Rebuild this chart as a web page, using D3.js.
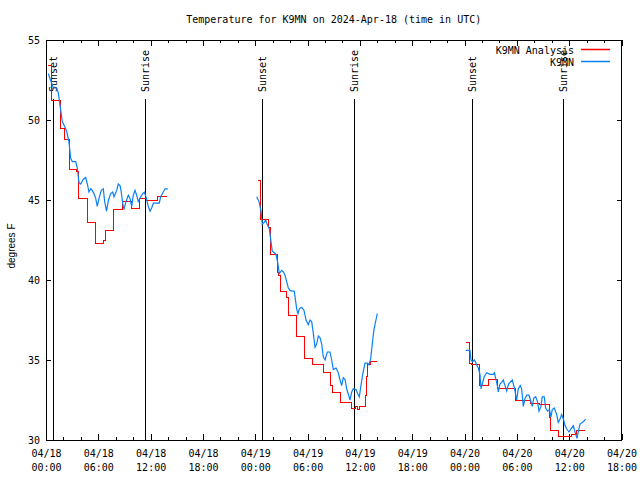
<!DOCTYPE html>
<html>
<head>
<meta charset="utf-8">
<script src="https://cdn.jsdelivr.net/npm/d3@7"></script>
<style>
  body { margin: 0; background: #fff; }
  svg text { font-family: "DejaVu Sans Mono", monospace; font-size: 10px; fill: #000; }
</style>
</head>
<body>
<div id="vis"></div>
<script>
// frame, same size as the gnuplot png
const FRAME_WIDTH = 640;
const FRAME_HEIGHT = 480;
const MARGINS = {left: 46, right: 18.5, top: 40, bottom: 40};
const VIS_WIDTH = FRAME_WIDTH - MARGINS.left - MARGINS.right;
const VIS_HEIGHT = FRAME_HEIGHT - MARGINS.top - MARGINS.bottom;

const RED = "#ff0000";
const BLUE = "#0a80f5";

// hours after 2024-04-18 00:00 UTC, null = gap in the record
const START = Date.UTC(2024, 3, 18, 0, 0);
const END_HOURS = 66;

// K9MN Analysis (red, drawn as steps)
const analysisHours = [0.23, 0.61, 1.61, 2.14, 2.75, 3.52, 3.75, 4.74, 5.70, 6.54, 6.88, 7.72, 8.80, 9.86, 10.78, 11.58, 12.73, 13.84,
  null,
  24.28, 24.60, 25.57, 25.80, 26.57, 26.72, 26.95, 27.60, 27.79, 28.75, 29.70, 30.62, 31.79, 32.68, 32.83, 33.83, 34.98, 35.44, 35.72, 36.01, 36.66, 36.78, 36.89, 37.16, 37.99,
  null,
  48.22, 48.62, 48.82, 49.77, 50.75, 51.78, 53.88, 55.62, 56.65, 57.74, 57.91, 58.72, 59.75, 60.32, 60.84, 61.87];
const analysisTemps = [53.4, 51.2, 49.5, 48.8, 46.9, 46.8, 45.1, 43.6, 42.3, 42.5, 43.1, 44.4, 44.9, 44.5, 45.1, 45.0, 45.2, 45.2,
  null,
  46.2, 43.8, 43.3, 41.6, 40.5, 40.3, 39.3, 38.9, 37.8, 36.5, 35.1, 34.75, 34.2, 33.4, 33.0, 32.35, 32.0, 32.1, 31.9, 32.1, 32.8, 34.0, 34.7, 34.9, 34.9,
  null,
  36.1, 34.8, 34.7, 33.4, 33.8, 33.25, 32.45, 32.3, 32.2, 31.4, 30.6, 30.2, 30.25, 30.35, 30.6, 30.6];

// K9MN station (blue)
const obsHours = [0.26, 0.65, 0.84, 1.23, 1.41, 1.61, 1.87, 2.14, 2.37, 2.64, 2.83, 3.02, 3.41, 3.59, 3.78, 3.98, 4.28, 4.55, 4.74, 4.93,
  5.13, 5.31, 5.50, 5.70, 5.88, 6.08, 6.34, 6.57, 6.73, 6.94, 7.17, 7.42, 7.65, 7.80, 8.11, 8.29, 8.49, 8.60, 8.80, 8.94,
  9.17, 9.44, 9.63, 9.83, 10.01, 10.21, 10.40, 10.58, 10.86, 11.09, 11.27, 11.47, 11.73, 11.93, 12.12, 12.31, 12.99, 13.15, 13.45, 13.65, 13.96,
  null,
  24.16, 24.43, 24.54, 24.66, 24.80, 25.03, 25.19, 25.42, 25.61, 25.80, 25.95, 26.18, 26.38, 26.57, 26.75, 27.03, 27.24, 27.41, 27.60, 27.79,
  27.98, 28.25, 28.47, 28.75, 28.90, 29.05, 29.32, 29.59, 29.82, 30.08, 30.28, 30.47, 30.65, 30.85, 31.04, 31.23, 31.42, 31.62, 31.80, 32.00,
  32.26, 32.57, 32.76, 32.95, 33.26, 33.52, 33.72, 33.91, 34.09, 34.29, 34.48, 34.71, 34.86, 35.06, 35.24, 35.55, 35.74, 35.93, 36.12, 36.32,
  36.58, 36.85, 37.04, 37.24, 37.47, 37.61, 37.84, 37.99,
  null,
  48.13, 48.62, 48.74, 48.89, 49.14, 49.39, 49.58, 49.77, 49.89, 50.03, 50.26, 50.54, 50.92, 51.30, 51.43, 51.57, 51.80, 51.87, 52.06, 52.26,
  52.44, 52.64, 52.83, 53.04, 53.21, 53.47, 53.70, 53.98, 54.16, 54.39, 54.55, 54.74, 54.93, 55.13, 55.39, 55.56, 55.77, 55.93, 56.16, 56.36,
  56.54, 56.77, 56.91, 57.14, 57.30, 57.53, 57.74, 57.91, 58.06, 58.29, 58.56, 58.75, 58.94, 59.14, 59.37, 59.52, 59.71, 59.98, 60.21, 60.47,
  60.67, 60.89, 61.04, 61.24, 61.50, 61.73, 61.89];
const obsTemps = [52.9, 52.3, 52.0, 52.0, 51.7, 50.9, 49.9, 49.6, 49.3, 48.6, 47.6, 47.4, 47.4, 47.0, 46.1, 46.0, 46.3, 46.4, 46.0, 45.5,
  45.7, 45.6, 45.4, 45.1, 44.6, 45.1, 45.6, 45.7, 44.9, 44.3, 45.0, 45.4, 45.5, 45.2, 45.6, 46.0, 45.9, 45.6, 44.8, 44.4,
  44.9, 45.3, 45.1, 44.6, 45.3, 45.6, 45.3, 44.9, 45.2, 45.4, 45.5, 45.2, 44.6, 44.3, 44.5, 44.8, 44.8, 45.2, 45.5, 45.7, 45.7,
  null,
  45.2, 44.9, 44.6, 44.3, 43.5, 43.6, 43.75, 43.4, 43.2, 42.4, 41.8, 41.7, 41.6, 41.1, 40.4, 40.6, 40.5, 40.3, 39.9, 39.5,
  39.35, 39.3, 39.3, 38.2, 37.9, 38.2, 38.3, 38.1, 37.5, 37.2, 37.5, 37.4, 36.7, 35.8, 36.0, 36.5, 36.4, 36.0, 35.2, 35.0,
  35.5, 35.5, 35.0, 34.4, 34.5, 34.2, 33.75, 33.4, 33.9, 33.8, 33.2, 32.8, 32.5, 33.0, 33.2, 33.15, 32.9, 32.7, 33.4, 34.1,
  34.8, 34.8, 34.7, 35.1, 36.25, 36.9, 37.5, 37.9,
  null,
  35.6, 35.6, 35.0, 34.9, 35.0, 34.7, 34.5, 34.1, 33.2, 33.5, 33.95, 34.2, 34.1, 34.1, 34.2, 33.85, 33.3, 33.0, 33.5, 33.6,
  33.75, 33.4, 33.06, 33.5, 33.6, 33.75, 33.3, 32.5, 33.2, 33.4, 33.2, 32.1, 32.6, 32.8, 32.8, 32.5, 32.1, 32.6, 32.7, 32.4,
  31.8, 32.1, 32.7, 32.7, 32.0, 31.8, 31.9, 31.45, 31.9, 32.0, 31.6, 31.1, 31.3, 31.6, 31.25, 30.9, 30.7, 30.5, 30.7, 30.9,
  30.5, 30.1, 30.5, 31.0, 31.1, 31.2, 31.3];

const sunsetHours = [0.84, 24.87, 48.90];
const sunriseHours = [11.39, 35.36, 59.32];
const yTicks = [30, 35, 40, 45, 50, 55];

const toDate = (h) => new Date(START + h * 3600e3);

const FRAME = d3.select("#vis")
  .append("svg")
    .attr("width", FRAME_WIDTH)
    .attr("height", FRAME_HEIGHT);

const X_SCALE = d3.scaleUtc()
  .domain([toDate(0), toDate(END_HOURS)])
  .range([MARGINS.left, MARGINS.left + VIS_WIDTH]);
const Y_SCALE = d3.scaleLinear()
  .domain([30, 55])
  .range([MARGINS.top + VIS_HEIGHT, MARGINS.top]);

const majorTicks = d3.utcHour.every(6).range(toDate(0), toDate(END_HOURS + 0.01));
const minorTicks = d3.utcHour.every(2).range(toDate(0), toDate(END_HOURS + 0.01));

// ticks point inward, like gnuplot; mirrored on all four sides
function styleAxis(g) {
  g.select(".domain").remove();
  g.selectAll("line").attr("stroke", "#000").attr("shape-rendering", "crispEdges");
  g.attr("font-family", null).attr("font-size", null);
}

FRAME.append("g")
  .attr("transform", "translate(0," + (MARGINS.top + VIS_HEIGHT) + ")")
  .call(d3.axisBottom(X_SCALE).tickValues(minorTicks).tickSize(-3).tickFormat(""))
  .call(styleAxis);
FRAME.append("g")
  .attr("transform", "translate(0," + MARGINS.top + ")")
  .call(d3.axisTop(X_SCALE).tickValues(minorTicks).tickSize(-3).tickFormat(""))
  .call(styleAxis);
FRAME.append("g")
  .attr("transform", "translate(0," + MARGINS.top + ")")
  .call(d3.axisTop(X_SCALE).tickValues(majorTicks).tickSize(-6).tickFormat(""))
  .call(styleAxis);

const fmtDay = d3.utcFormat("%m/%d");
const fmtTime = d3.utcFormat("%H:%M");
const xAxis = FRAME.append("g")
  .attr("transform", "translate(0," + (MARGINS.top + VIS_HEIGHT) + ")")
  .call(d3.axisBottom(X_SCALE).tickValues(majorTicks).tickSize(-6).tickFormat(fmtDay))
  .call(styleAxis);
xAxis.selectAll(".tick text").each(function(d) {
  const t = d3.select(this).attr("y", null).attr("dy", null).text(null);
  t.append("tspan").attr("x", 0).attr("y", 17).text(fmtDay(d));
  t.append("tspan").attr("x", 0).attr("y", 31).text(fmtTime(d));
});

FRAME.append("g")
  .attr("transform", "translate(" + MARGINS.left + ",0)")
  .call(d3.axisLeft(Y_SCALE).tickValues(yTicks).tickSize(-5).tickPadding(6))
  .call(styleAxis);
FRAME.append("g")
  .attr("transform", "translate(" + (MARGINS.left + VIS_WIDTH) + ",0)")
  .call(d3.axisRight(Y_SCALE).tickValues(yTicks).tickSize(-5).tickFormat(""))
  .call(styleAxis);

// border
FRAME.append("rect")
  .attr("x", MARGINS.left).attr("y", MARGINS.top)
  .attr("width", VIS_WIDTH).attr("height", VIS_HEIGHT)
  .attr("fill", "none").attr("stroke", "#000")
  .attr("shape-rendering", "crispEdges");

// sunset / sunrise markers
const sunEvents = sunsetHours.map(h => ({h: h, label: "Sunset"}))
  .concat(sunriseHours.map(h => ({h: h, label: "Sunrise"})));
FRAME.selectAll(".sunline")
  .data(sunEvents)
  .enter()
  .append("line")
    .attr("x1", d => X_SCALE(toDate(d.h)))
    .attr("x2", d => X_SCALE(toDate(d.h)))
    .attr("y1", Y_SCALE(51.3))
    .attr("y2", Y_SCALE(30))
    .attr("stroke", "#000")
    .attr("shape-rendering", "crispEdges");
FRAME.selectAll(".sunlabel")
  .data(sunEvents)
  .enter()
  .append("text")
    .attr("transform", d => "translate(" + X_SCALE(toDate(d.h)) + "," + Y_SCALE(51.75) + ") rotate(-90)")
    .attr("dy", "0.35em")
    .attr("text-anchor", "start")
    .text(d => d.label);

// series
const analysisData = analysisHours.map((h, i) => ({h: h, v: analysisTemps[i]}));
const obsData = obsHours.map((h, i) => ({h: h, v: obsTemps[i]}));

const stepLine = d3.line()
  .defined(d => d.h !== null)
  .x(d => X_SCALE(toDate(d.h)))
  .y(d => Y_SCALE(d.v))
  .curve(d3.curveStepAfter);
const plainLine = d3.line()
  .defined(d => d.h !== null)
  .x(d => X_SCALE(toDate(d.h)))
  .y(d => Y_SCALE(d.v));

FRAME.append("path")
  .datum(analysisData)
  .attr("d", stepLine)
  .attr("fill", "none")
  .attr("stroke", RED)
  .attr("stroke-width", 1)
  .attr("shape-rendering", "crispEdges");
FRAME.append("path")
  .datum(obsData)
  .attr("d", plainLine)
  .attr("fill", "none")
  .attr("stroke", BLUE)
  .attr("stroke-width", 1.2);

// legend
const legendNames = ["K9MN Analysis", "K9MN"];
const legendColors = [RED, BLUE];
FRAME.selectAll(".legtext")
  .data(legendNames)
  .enter()
  .append("text")
    .attr("x", 574)
    .attr("y", (d, i) => 50.5 + i * 12)
    .attr("dy", "0.35em")
    .attr("text-anchor", "end")
    .text(d => d);
FRAME.selectAll(".legline")
  .data(legendColors)
  .enter()
  .append("line")
    .attr("x1", 581).attr("x2", 610)
    .attr("y1", (d, i) => 49.5 + i * 12)
    .attr("y2", (d, i) => 49.5 + i * 12)
    .attr("stroke", d => d)
    .attr("stroke-width", 1.5);

// title and y label
FRAME.append("text")
  .attr("x", MARGINS.left + VIS_WIDTH / 2).attr("y", 23)
  .attr("text-anchor", "middle")
  .text("Temperature for K9MN on 2024-Apr-18 (time in UTC)");
FRAME.append("text")
  .attr("transform", "translate(11,246) rotate(-90)")
  .attr("dy", "0.35em")
  .attr("text-anchor", "middle")
  .style("font-family", "'Liberation Sans', Arial, sans-serif")
  .text("degrees F");
</script>
</body>
</html>
